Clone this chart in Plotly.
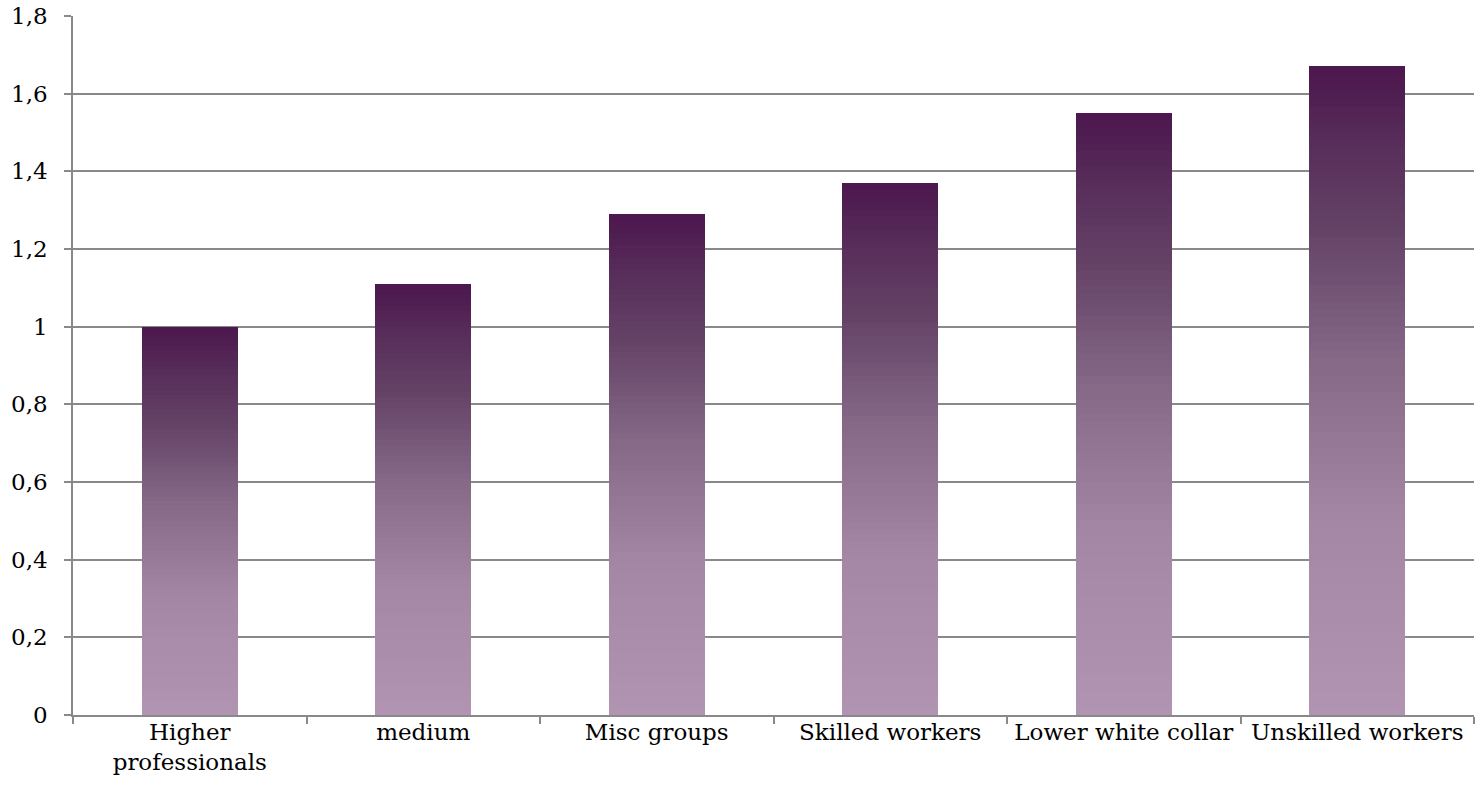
import plotly.graph_objects as go

categories = ["Higher<br>professionals", "medium", "Misc groups", "Skilled workers",
              "Lower white collar", "Unskilled workers"]
values = [1.0, 1.11, 1.29, 1.37, 1.55, 1.67]
y_ticks = [0, 0.2, 0.4, 0.6, 0.8, 1.0, 1.2, 1.4, 1.6, 1.8]
y_tick_labels = ["0", "0,2", "0,4", "0,6", "0,8", "1", "1,2", "1,4", "1,6", "1,8"]

# gradient stops: position from bottom (0) to top (1) -> rgb
stops = [(0.0, (176, 148, 178)), (0.3, (163, 135, 165)), (0.55, (132, 104, 134)),
         (0.75, (100, 66, 102)), (0.9, (86, 42, 88)), (1.0, (76, 22, 78))]

def color_at(t):
    for (p0, c0), (p1, c1) in zip(stops[:-1], stops[1:]):
        if p0 <= t <= p1:
            f = (t - p0) / (p1 - p0)
            return "rgb(%d,%d,%d)" % tuple(round(a + (b - a) * f) for a, b in zip(c0, c1))
    return "rgb(%d,%d,%d)" % stops[-1][1]

N = 80
fig = go.Figure()
for k in range(N):
    t = (k + 0.5) / N
    fig.add_trace(go.Bar(
        x=categories, y=[v / N for v in values],
        marker=dict(color=color_at(t), line=dict(width=0)),
        showlegend=False, hoverinfo="skip",
    ))

font_family = "DejaVu Serif"
fig.update_layout(
    barmode="stack", bargap=0.59,
    width=1478, height=801,
    margin=dict(l=73, r=4, t=16, b=86),
    plot_bgcolor="white", paper_bgcolor="white",
    separators=", ",
    font=dict(family=font_family, size=23, color="black"),
    xaxis=dict(
        type="category", tickson="boundaries", ticks="outside", ticklen=7,
        tickcolor="#898989", tickwidth=1.5, showline=True, linecolor="#898989",
        linewidth=1.5, showgrid=False, tickfont=dict(size=23, family=font_family),
        ticklabelstandoff=-4, tickangle=0,
    ),
    yaxis=dict(
        range=[0, 1.8], tickvals=y_ticks, ticktext=y_tick_labels,
        ticks="outside", ticklen=7, tickcolor="#898989", tickwidth=1.5,
        showline=True, linecolor="#898989", linewidth=1.5,
        showgrid=True, gridcolor="#898989", gridwidth=1.5, zeroline=False,
        tickfont=dict(size=23, family=font_family), ticklabelstandoff=12,
    ),
)
fig.write_html("out.html")
